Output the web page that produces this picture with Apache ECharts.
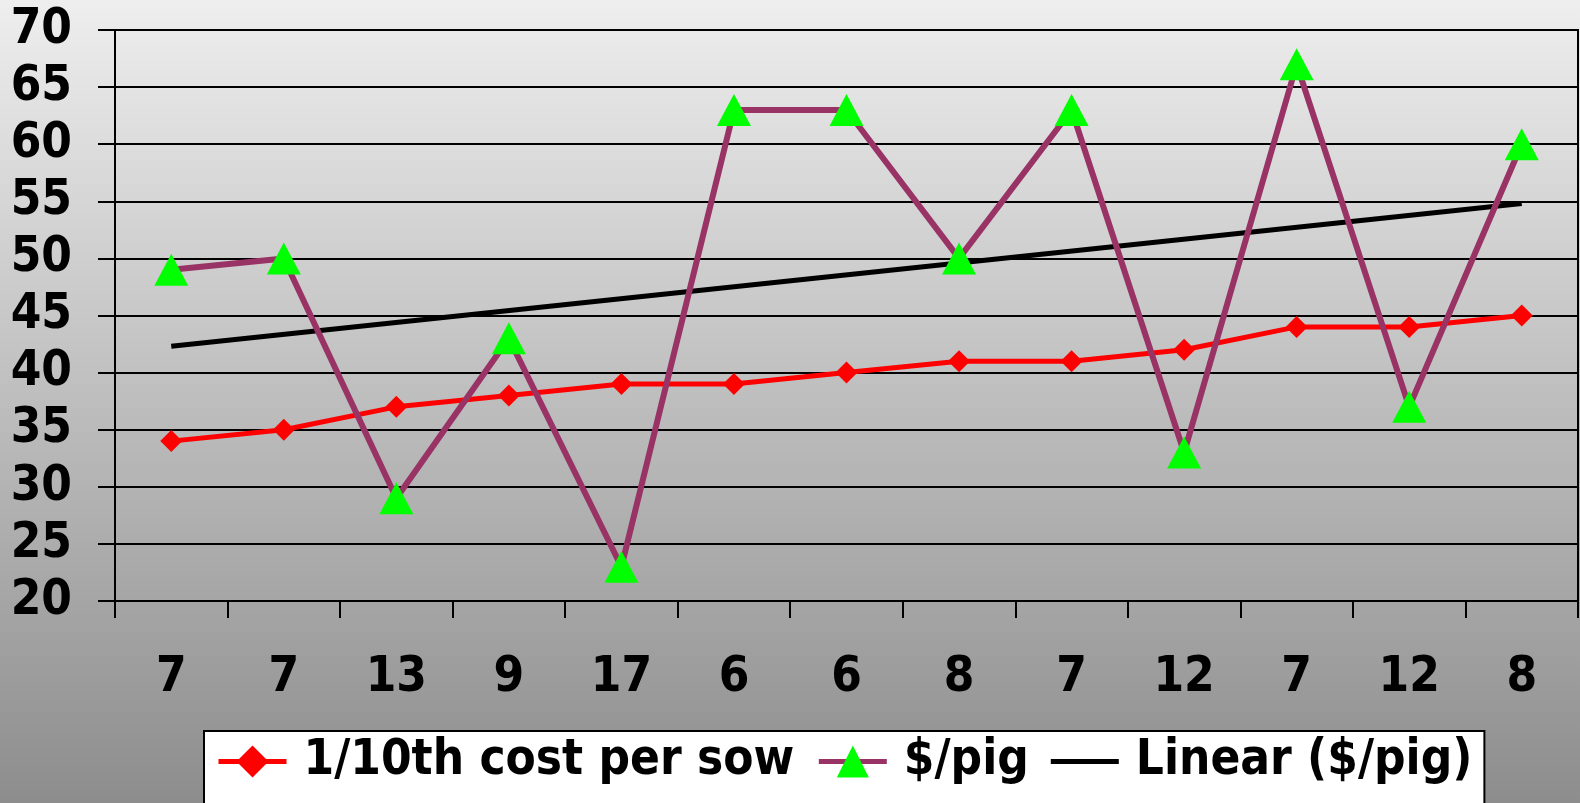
<!DOCTYPE html>
<html>
<head>
<meta charset="utf-8">
<script src="https://cdn.jsdelivr.net/npm/echarts@6/dist/echarts.min.js"></script>
<style>
    html, body { margin: 0; padding: 0; }
    #chart { width: 1580px; height: 803px; }
</style>
</head>
<body>
<div id="chart"></div>
<script>
    // category labels along the bottom
    var categories = ['7', '7', '13', '9', '17', '6', '6', '8', '7', '12', '7', '12', '8'];
    // 1/10th cost per sow
    var costPerSow = [34, 35, 37, 38, 39, 39, 40, 41, 41, 42, 44, 44, 45];
    // $/pig
    var perPig = [49, 50, 29, 43, 23, 63, 63, 50, 63, 33, 67, 37, 60];
    // trend line ends (first and last category)
    var trendEnds = [42.3, 54.8];

    var font = "'DejaVu Sans Condensed', 'DejaVu Sans', Verdana, sans-serif";

    var trendData = categories.map(function () { return null; });
    trendData[0] = trendEnds[0];
    trendData[trendData.length - 1] = trendEnds[1];

    var chart = echarts.init(document.getElementById('chart'));

    chart.setOption({
        animation: false,
        backgroundColor: {
            type: 'linear', x: 0, y: 0, x2: 0, y2: 1,
            colorStops: [
                { offset: 0, color: '#eeeeee' },
                { offset: 1, color: '#8d8d8d' }
            ]
        },
        grid: {
            left: 115,
            right: 2,
            top: 30,
            bottom: 202,
            show: true,
            borderColor: '#000',
            borderWidth: 2
        },
        xAxis: {
            type: 'category',
            data: categories,
            boundaryGap: true,
            axisLine: { lineStyle: { color: '#000', width: 2 } },
            axisTick: { show: true, length: 17, lineStyle: { color: '#000', width: 2 } },
            axisLabel: {
                margin: 53,
                color: '#000',
                fontSize: 49,
                fontWeight: 'bold',
                fontFamily: font
            }
        },
        yAxis: {
            type: 'value',
            min: 20,
            max: 70,
            interval: 5,
            axisLine: { show: true, lineStyle: { color: '#000', width: 2 } },
            axisTick: { show: true, length: 17, lineStyle: { color: '#000', width: 2 } },
            splitLine: { lineStyle: { color: '#000', width: 2 } },
            axisLabel: {
                margin: 43,
                color: '#000',
                fontSize: 49,
                fontWeight: 'bold',
                fontFamily: font
            }
        },
        legend: {
            left: 204,
            top: 731,
            backgroundColor: '#fff',
            borderColor: '#000',
            borderWidth: 2,
            borderRadius: 0,
            padding: [6, 12, 40, 12],
            itemWidth: 68,
            itemHeight: 40,
            itemGap: 22,
            lineStyle: { width: 5 },
            textStyle: {
                color: '#000',
                fontSize: 49,
                fontWeight: 'bold',
                fontFamily: font,
                padding: [0, 0, 0, 12]
            },
            data: [
                '1/10th cost per sow',
                '$/pig',
                { name: 'Linear ($/pig)', icon: 'path://M0,0H68V5H0Z' }
            ]
        },
        series: [
            {
                name: '1/10th cost per sow',
                type: 'line',
                data: costPerSow,
                symbol: 'diamond',
                symbolSize: 22,
                lineStyle: { color: '#ff0000', width: 5 },
                itemStyle: { color: '#ff0000' },
                z: 3
            },
            {
                name: '$/pig',
                type: 'line',
                data: perPig,
                symbol: 'triangle',
                symbolSize: [34, 32],
                lineStyle: { color: '#993366', width: 6 },
                itemStyle: { color: '#00ff00' },
                z: 4
            },
            {
                name: 'Linear ($/pig)',
                type: 'line',
                data: trendData,
                connectNulls: true,
                symbol: 'none',
                lineStyle: { color: '#000', width: 5 },
                itemStyle: { color: '#000' },
                z: 2
            }
        ]
    });
</script>
</body>
</html>
